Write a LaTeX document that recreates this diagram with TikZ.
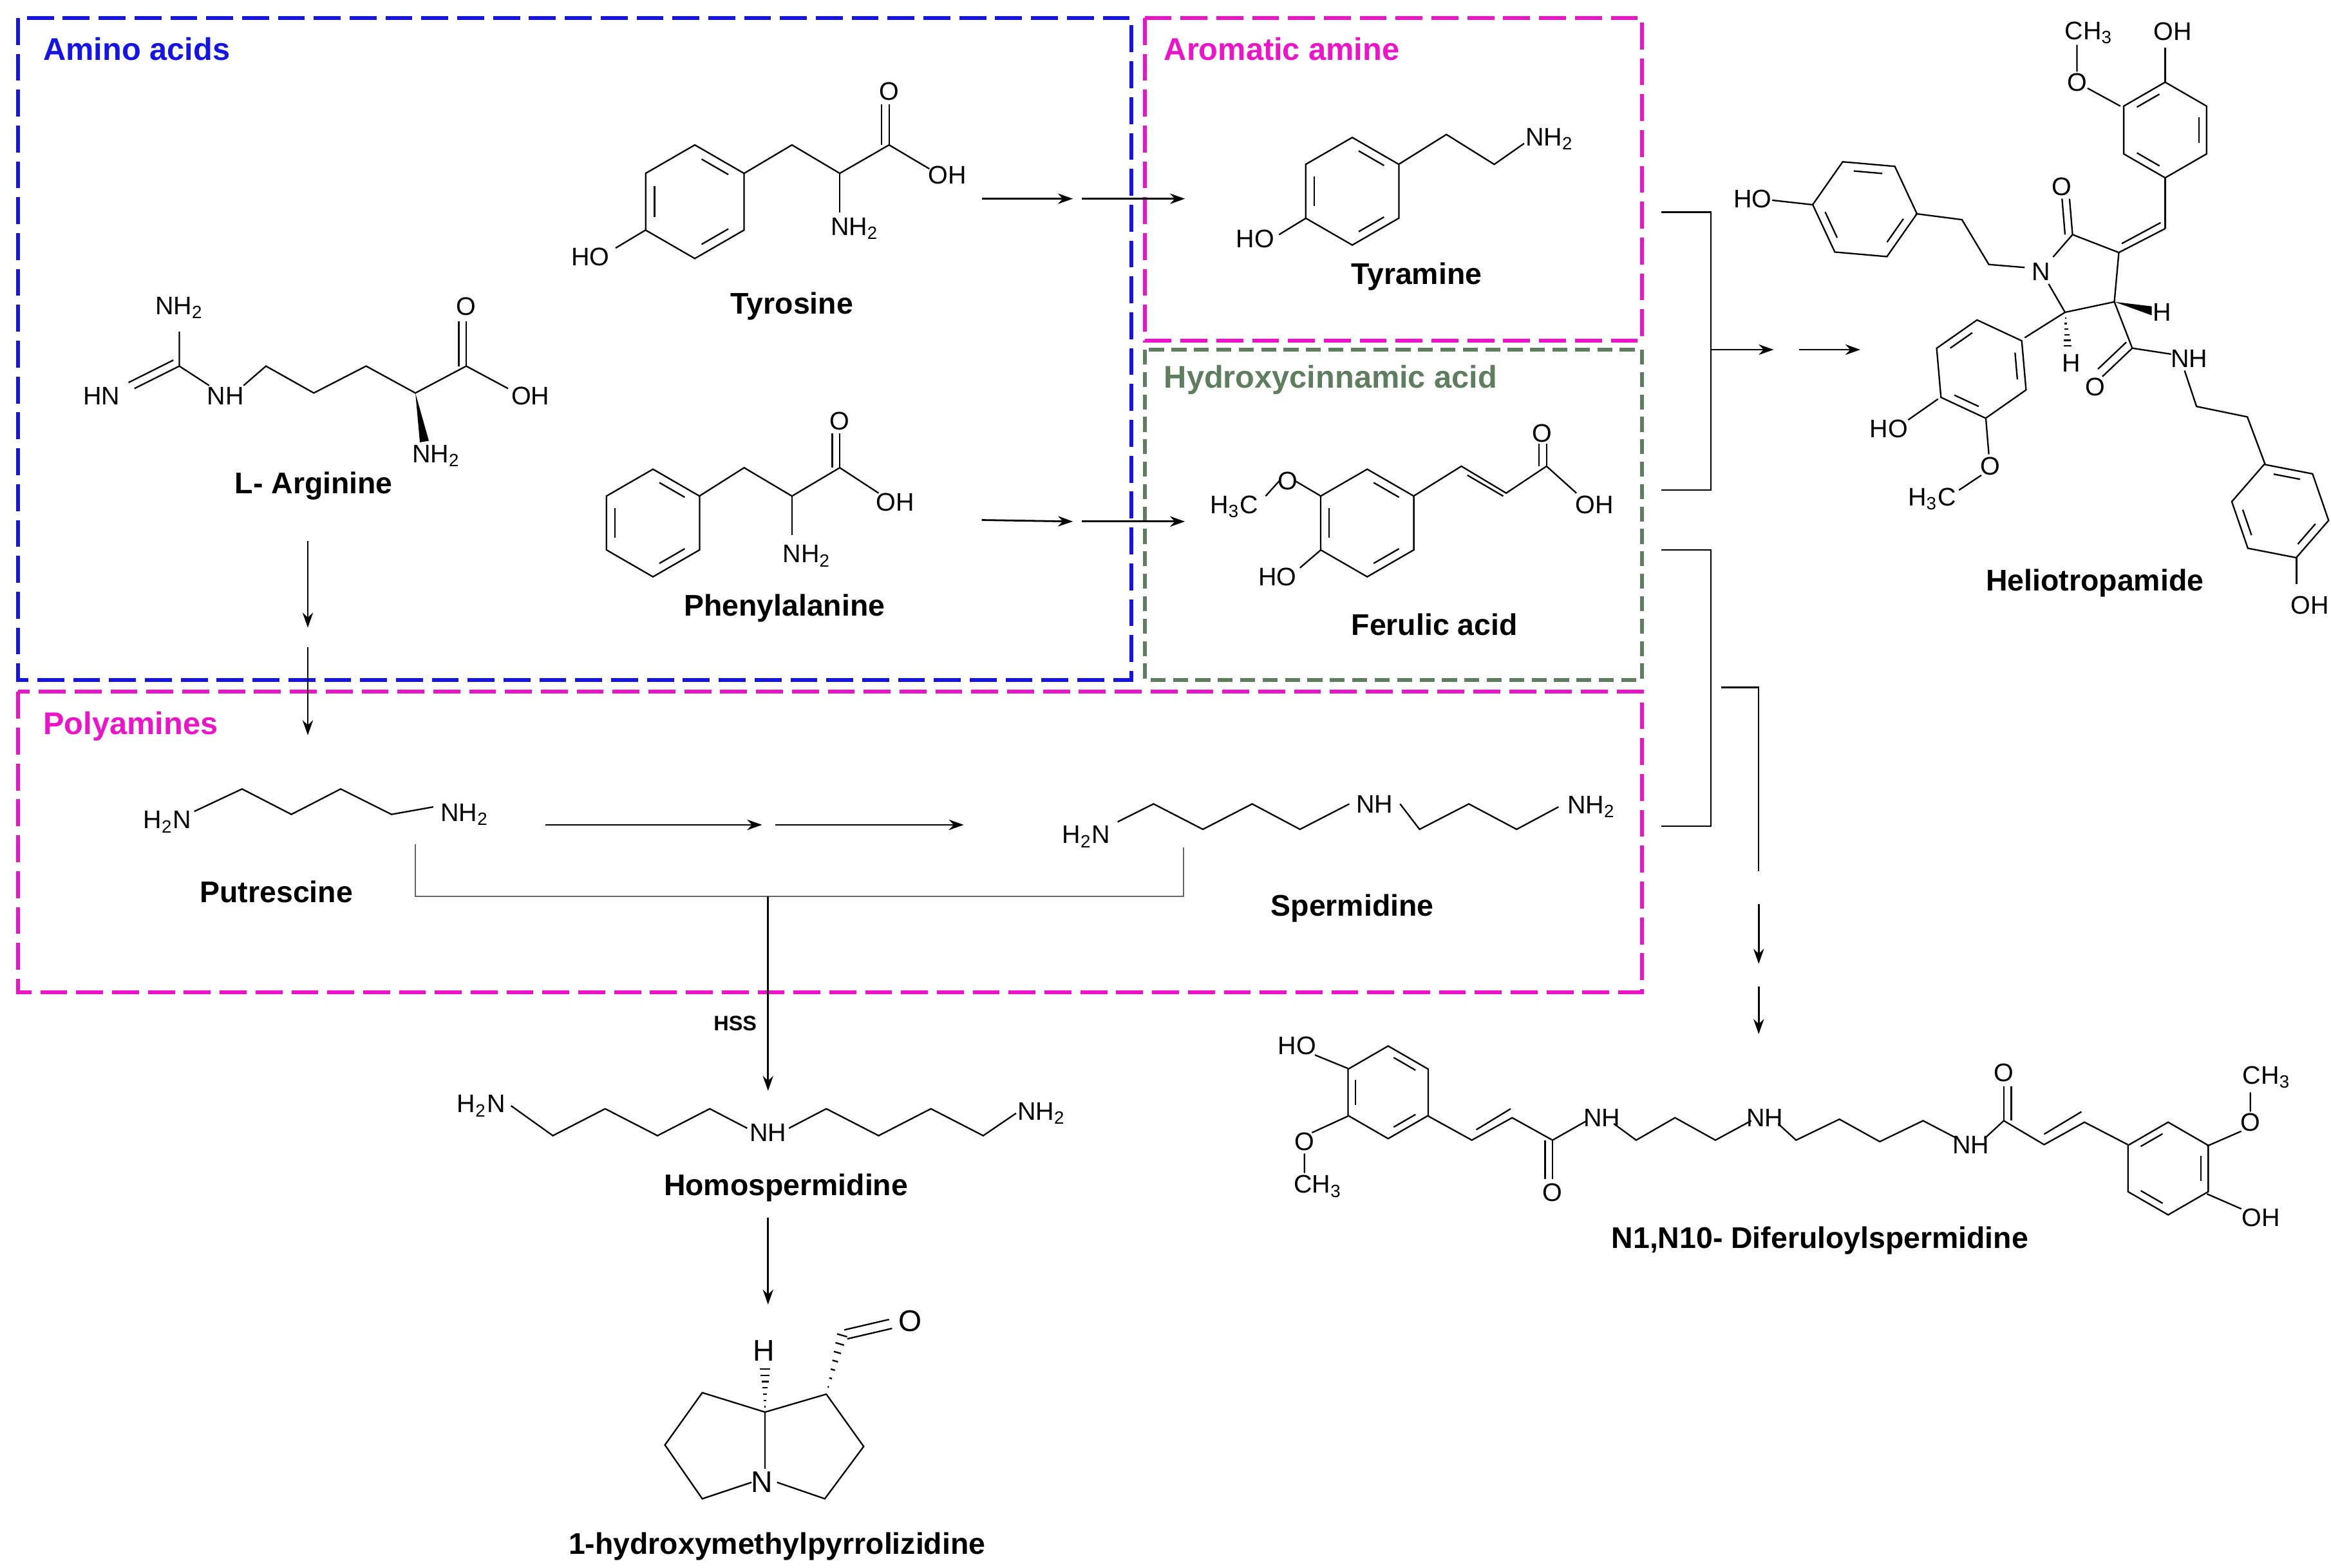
\documentclass[tikz,border=0pt]{standalone}
\usepackage{fontspec}
\setmainfont{Liberation Sans}
\usetikzlibrary{arrows.meta,calc}
\definecolor{blu}{RGB}{20,20,230}
\definecolor{mag}{RGB}{235,20,200}
\definecolor{grn}{RGB}{95,125,95}
\tikzset{
 box/.style={line width=1.3pt,dash pattern=on 9pt off 3pt},
 ttl/.style={font=\fontsize{10.5}{12}\selectfont\bfseries,anchor=west},
 lbl/.style={font=\fontsize{10}{12}\selectfont\bfseries},
 atm/.style={font=\fontsize{8.5}{10}\selectfont,inner sep=1pt},
 bd/.style={line width=0.5pt},
 arr/.style={line width=0.6pt,-{Stealth[length=5pt,width=3.5pt]}},
 brk/.style={line width=0.5pt,gray!80!black},
}
% center x, center y, radius, start angle of first inner bond
\newcommand\ring[4]{\begin{scope}[shift={(#1,#2)}]
 \draw[bd] (#4:#3)--(#4+60:#3)--(#4+120:#3)--(#4+180:#3)--(#4+240:#3)--(#4+300:#3)--cycle;
 \foreach \a in {0,120,240}{\draw[bd] (#4+\a+9:0.76*#3)--(#4+\a+51:0.76*#3);}
\end{scope}}
\newcommand\hexring[3]{\ring{#1}{#2}{#3}{30}}
\begin{document}
\begin{tikzpicture}[x=0.5pt,y=-0.5pt]
\useasboundingbox (0,0) rectangle (1560,1049);
% boxes
\draw[box,blu] (12,12) rectangle (757,455);
\draw[box,mag] (766,12) rectangle (1099,228);
\draw[box,grn,dash pattern=on 5pt off 2.5pt] (766,234) rectangle (1099,455);
\draw[box,mag] (12,463) rectangle (1099,664);
\node[ttl,blu] (t1) at (22,33) {Amino acids};
\node[ttl,mag] (t2) at (772,33) {Aromatic amine};
\node[ttl,grn] (t3) at (772,254) {Hydroxycinnamic acid};
\node[ttl,mag] (t4) at (22,486) {Polyamines};
% Tyrosine
\hexring{465}{135}{38}
\draw[bd] (498,116)--(530,97)--(562,116)--(595,97)--(622,113);
\draw[bd] (595,97)--(595,70) (590,97)--(590,70);
\draw[bd] (562,116)--(562,142);
\draw[bd] (432,154)--(412,166);
\node[atm] (a1) at (595,61) {O};
\node[atm] (a2) at (634,117) {OH};
\node[atm] (a3) at (572,153) {NH\textsubscript{2}};
\node[atm] (a4) at (395,172) {HO};
\node[lbl] (Tyr) at (530,205) {Tyrosine};
% Phenylalanine
\hexring{437}{350}{36}
\draw[bd] (468,332)--(498,313)--(530,332)--(562,313)--(588,330);
\draw[bd] (562,313)--(562,290) (557,313)--(557,290);
\draw[bd] (530,332)--(530,358);
\node[atm] (b1) at (562,282) {O};
\node[atm] (b2) at (599,336) {OH};
\node[atm] (b3) at (540,372) {NH\textsubscript{2}};
\node[lbl] (Phe) at (525,407) {Phenylalanine};
% Arginine
\draw[bd] (120,222)--(120,245) (120,245)--(90,260) (116,241)--(86,256) (120,245)--(140,258);
\draw[bd] (163,258)--(178,245)--(210,263)--(245,245)--(278,263)--(312,245)--(340,260);
\draw[bd] (312,245)--(312,215) (307,245)--(307,215);
\fill (278,263)--(287,295)--(281,296)--cycle;
\node[atm] (c1) at (120,206) {NH\textsubscript{2}};
\node[atm] (c2) at (68,265) {HN};
\node[atm] (c3) at (151,265) {NH};
\node[atm] (c4) at (312,205) {O};
\node[atm] (c5) at (355,265) {OH};
\node[atm] (c6) at (292,305) {NH\textsubscript{2}};
\node[lbl] (Arg) at (210,325) {L- Arginine};
% Tyramine
\hexring{905}{128}{36}
\draw[bd] (936,110)--(968,90)--(1000,110)--(1020,96);
\draw[bd] (874,146)--(856,157);
\node[atm] (d1) at (1037,93) {NH\textsubscript{2}};
\node[atm] (d2) at (840,160) {HO};
\node[lbl] (Tyra) at (948,185) {Tyramine};
% Ferulic acid
\hexring{915}{350}{36}
\draw[bd] (884,332)--(867,322) (856,322)--(847,332);
\draw[bd] (884,368)--(870,380);
\draw[bd] (946,332)--(978,312)--(1008,330)--(1035,312)--(1055,330);
\draw[bd] (982,318)--(1006,332);
\draw[bd] (1035,312)--(1035,297) (1030,312)--(1030,297);
\node[atm] (e1) at (862,322) {O};
\node[atm] (e2) at (826,339) {H\textsubscript{3}C};
\node[atm] (e3) at (855,386) {HO};
\node[atm] (e4) at (1032,290) {O};
\node[atm] (e5) at (1067,338) {OH};
\node[lbl] (Fer) at (960,418) {Ferulic acid};
% Putrescine
\draw[bd] (130,543)--(162,528)--(195,545)--(228,528)--(262,545)--(290,540);
\node[atm] (f1) at (112,550) {H\textsubscript{2}N};
\node[atm] (f2) at (311,545) {NH\textsubscript{2}};
\node[lbl] (Put) at (185,597) {Putrescine};
% Spermidine
\draw[bd] (748,550)--(772,538)--(805,555)--(838,538)--(870,555)--(903,538);
\draw[bd] (937,538)--(950,555)--(983,538)--(1015,555)--(1043,540);
\node[atm] (g1) at (727,560) {H\textsubscript{2}N};
\node[atm] (g2) at (920,538) {NH};
\node[atm] (g3) at (1065,540) {NH\textsubscript{2}};
\node[lbl] (Spe) at (905,608) {Spermidine};
% Homospermidine
\draw[bd] (342,740)--(370,760)--(405,742)--(440,760)--(475,742)--(500,755);
\draw[bd] (528,755)--(553,742)--(588,760)--(623,742)--(658,760)--(680,745);
\node[atm] (h1) at (322,740) {H\textsubscript{2}N};
\node[atm] (h2) at (514,758) {NH};
\node[atm] (h3) at (697,745) {NH\textsubscript{2}};
\node[lbl] (Hom) at (526,795) {Homospermidine};
% Pyrrolizidine
\draw[bd] (512,945)--(470,932)--(445,967)--(470,1003)--(503,992);
\draw[bd] (512,945)--(553,933)--(578,968)--(552,1003)--(520,992);
\draw[bd] (512,945)--(512,983);
\foreach \t in {0.12,0.26,...,0.98}{\draw[bd] ($(512,945)+\t*(0,-30)+(-\t*3.5,0)$)--($(512,945)+\t*(0,-30)+(\t*3.5,0)$);}
\foreach \t in {0.12,0.26,...,0.98}{\draw[bd] ($(553,933)+\t*(11,-41)+(-\t*3.5,-\t*1)$)--($(553,933)+\t*(11,-41)+(\t*3.5,\t*1)$);}
\draw[bd] (565,890)--(595,883) (567,896)--(597,889);
\node[atm,font=\fontsize{10}{12}\selectfont] (p1) at (511,904) {H};
\node[atm,font=\fontsize{10}{12}\selectfont] (p2) at (510,992) {N};
\node[atm,font=\fontsize{10}{12}\selectfont] (p3) at (609,884) {O};
\node[lbl] (Pyr) at (520,1035) {1-hydroxymethylpyrrolizidine};
% Heliotropamide
\ring{1248}{140}{35}{245}
\ring{1449}{87}{32}{330}
\ring{1326}{247}{33}{325}
\ring{1526}{342}{33}{251}
\draw[bd] (1213,137)--(1186,134);
\draw[bd] (1282,143)--(1313,147)--(1331,177)--(1355,179);
\draw[bd] (1374,172)--(1387,157)--(1418,169)--(1415,202)--(1382,209)--(1371,190);
\draw[bd] (1387,157)--(1385,133) (1382,157)--(1380,133);
\draw[bd] (1418,169)--(1449,153) (1420,163)--(1446,149);
\draw[bd] (1449,153)--(1449,119);
\draw[bd] (1449,55)--(1449,32);
\draw[bd] (1419,71)--(1397,59) (1390,48)--(1390,30);
\fill (1415,202)--(1440,205)--(1440,211)--cycle;
\foreach \t in {0.15,0.3,...,0.95}{\draw[bd] ($(1382,209)+\t*(2,25)+(-\t*3,0)$)--($(1382,209)+\t*(2,25)+(\t*3,0)$);}
\draw[bd] (1382,209)--(1355,226);
\draw[bd] (1297,267)--(1277,281);
\draw[bd] (1329,280)--(1331,304) (1326,318)--(1311,328);
\draw[bd] (1415,202)--(1427,233)--(1453,237) (1427,233)--(1407,252) (1423,229)--(1404,247);
\draw[bd] (1462,248)--(1470,272)--(1504,279)--(1516,311);
\draw[bd] (1537,373)--(1537,391);
\node[atm] (k1) at (1366,182) {N};
\node[atm] (k2) at (1380,125) {O};
\node[atm] (k3) at (1447,209) {H};
\node[atm] (k4) at (1386,243) {H};
\node[atm] (k5) at (1402,259) {O};
\node[atm] (k6) at (1465,240) {NH};
\node[atm] (k7) at (1173,133) {HO};
\node[atm] (k8) at (1264,287) {HO};
\node[atm] (k9) at (1332,312) {O};
\node[atm] (k10) at (1293,334) {H\textsubscript{3}C};
\node[atm] (k11) at (1454,21) {OH};
\node[atm] (k12) at (1390,55) {O};
\node[atm] (k13) at (1398,22) {CH\textsubscript{3}};
\node[atm] (k14) at (1546,405) {OH};
\node[lbl] (Hel) at (1402,390) {Heliotropamide};
% Diferuloylspermidine
\ring{929}{731}{31}{270}
\ring{1451}{782}{31}{210}
\draw[bd] (902,715)--(880,706) (902,747)--(878,758) (873,772)--(873,785);
\draw[bd] (956,747)--(985,763)--(1012,748)--(1039,763)--(1062,750);
\draw[bd] (988,756)--(1011,742);
\draw[bd] (1039,763)--(1039,789) (1034,763)--(1034,789);
\draw[bd] (1080,752)--(1095,763)--(1121,748)--(1148,763)--(1172,750);
\draw[bd] (1190,752)--(1202,763)--(1231,749)--(1258,764)--(1287,750)--(1310,762);
\draw[bd] (1328,762)--(1341,750)--(1368,766)--(1395,751)--(1424,766);
\draw[bd] (1341,750)--(1341,727) (1346,750)--(1346,727);
\draw[bd] (1368,759)--(1393,744);
\draw[bd] (1477,767)--(1500,757) (1506,744)--(1506,731) (1477,799)--(1500,809);
\node[atm] (m1) at (868,700) {HO};
\node[atm] (m2) at (873,764) {O};
\node[atm] (m3) at (882,794) {CH\textsubscript{3}};
\node[atm] (m4) at (1039,798) {O};
\node[atm] (m5) at (1072,748) {NH};
\node[atm] (m6) at (1181,748) {NH};
\node[atm] (m7) at (1319,766) {NH};
\node[atm] (m8) at (1341,718) {O};
\node[atm] (m9) at (1506,751) {O};
\node[atm] (m10) at (1517,721) {CH\textsubscript{3}};
\node[atm] (m11) at (1513,815) {OH};
\node[lbl] (Dif) at (1218,830) {N1,N10- Diferuloylspermidine};
% arrows
\coordinate (q1) at (657,133); \coordinate (q2) at (718,133);
\coordinate (q3) at (724,133); \coordinate (q4) at (793,133);
\draw[arr] (q1)--(q2); \draw[arr] (q3)--(q4);
\coordinate (r1) at (657,348); \coordinate (r2) at (718,349);
\coordinate (r3) at (724,349); \coordinate (r4) at (793,349);
\draw[arr] (r1)--(r2); \draw[arr] (r3)--(r4);
\coordinate (s1) at (206,362); \coordinate (s2) at (206,420);
\coordinate (s3) at (206,433); \coordinate (s4) at (206,492);
\draw[arr] (s1)--(s2); \draw[arr] (s3)--(s4);
\coordinate (u1) at (365,552); \coordinate (u2) at (510,552);
\coordinate (u3) at (519,552); \coordinate (u4) at (645,552);
\draw[arr] (u1)--(u2); \draw[arr] (u3)--(u4);
\draw[brk] (278,565)--(278,600)--(792,600)--(792,567);
\coordinate (v1) at (514,600); \coordinate (v2) at (514,730);
\draw[arr] (v1)--(v2);
\node[font=\fontsize{7}{8}\selectfont\bfseries] (hss) at (492,685) {HSS};
\coordinate (w1) at (514,815); \coordinate (w2) at (514,873);
\draw[arr] (w1)--(w2);
\draw[bd] (1112,142)--(1145,142)--(1145,328)--(1112,328);
\coordinate (x1) at (1145,234); \coordinate (x2) at (1187,234);
\coordinate (x3) at (1204,234); \coordinate (x4) at (1245,234);
\draw[arr] (x1)--(x2); \draw[arr] (x3)--(x4);
\draw[bd] (1112,368)--(1145,368)--(1145,553)--(1112,553);
\draw[bd] (1152,460)--(1177,460)--(1177,583);
\coordinate (y1) at (1177,605); \coordinate (y2) at (1177,645);
\coordinate (y3) at (1177,660); \coordinate (y4) at (1177,692);
\draw[arr] (y1)--(y2); \draw[arr] (y3)--(y4);
\end{tikzpicture}
\end{document}
